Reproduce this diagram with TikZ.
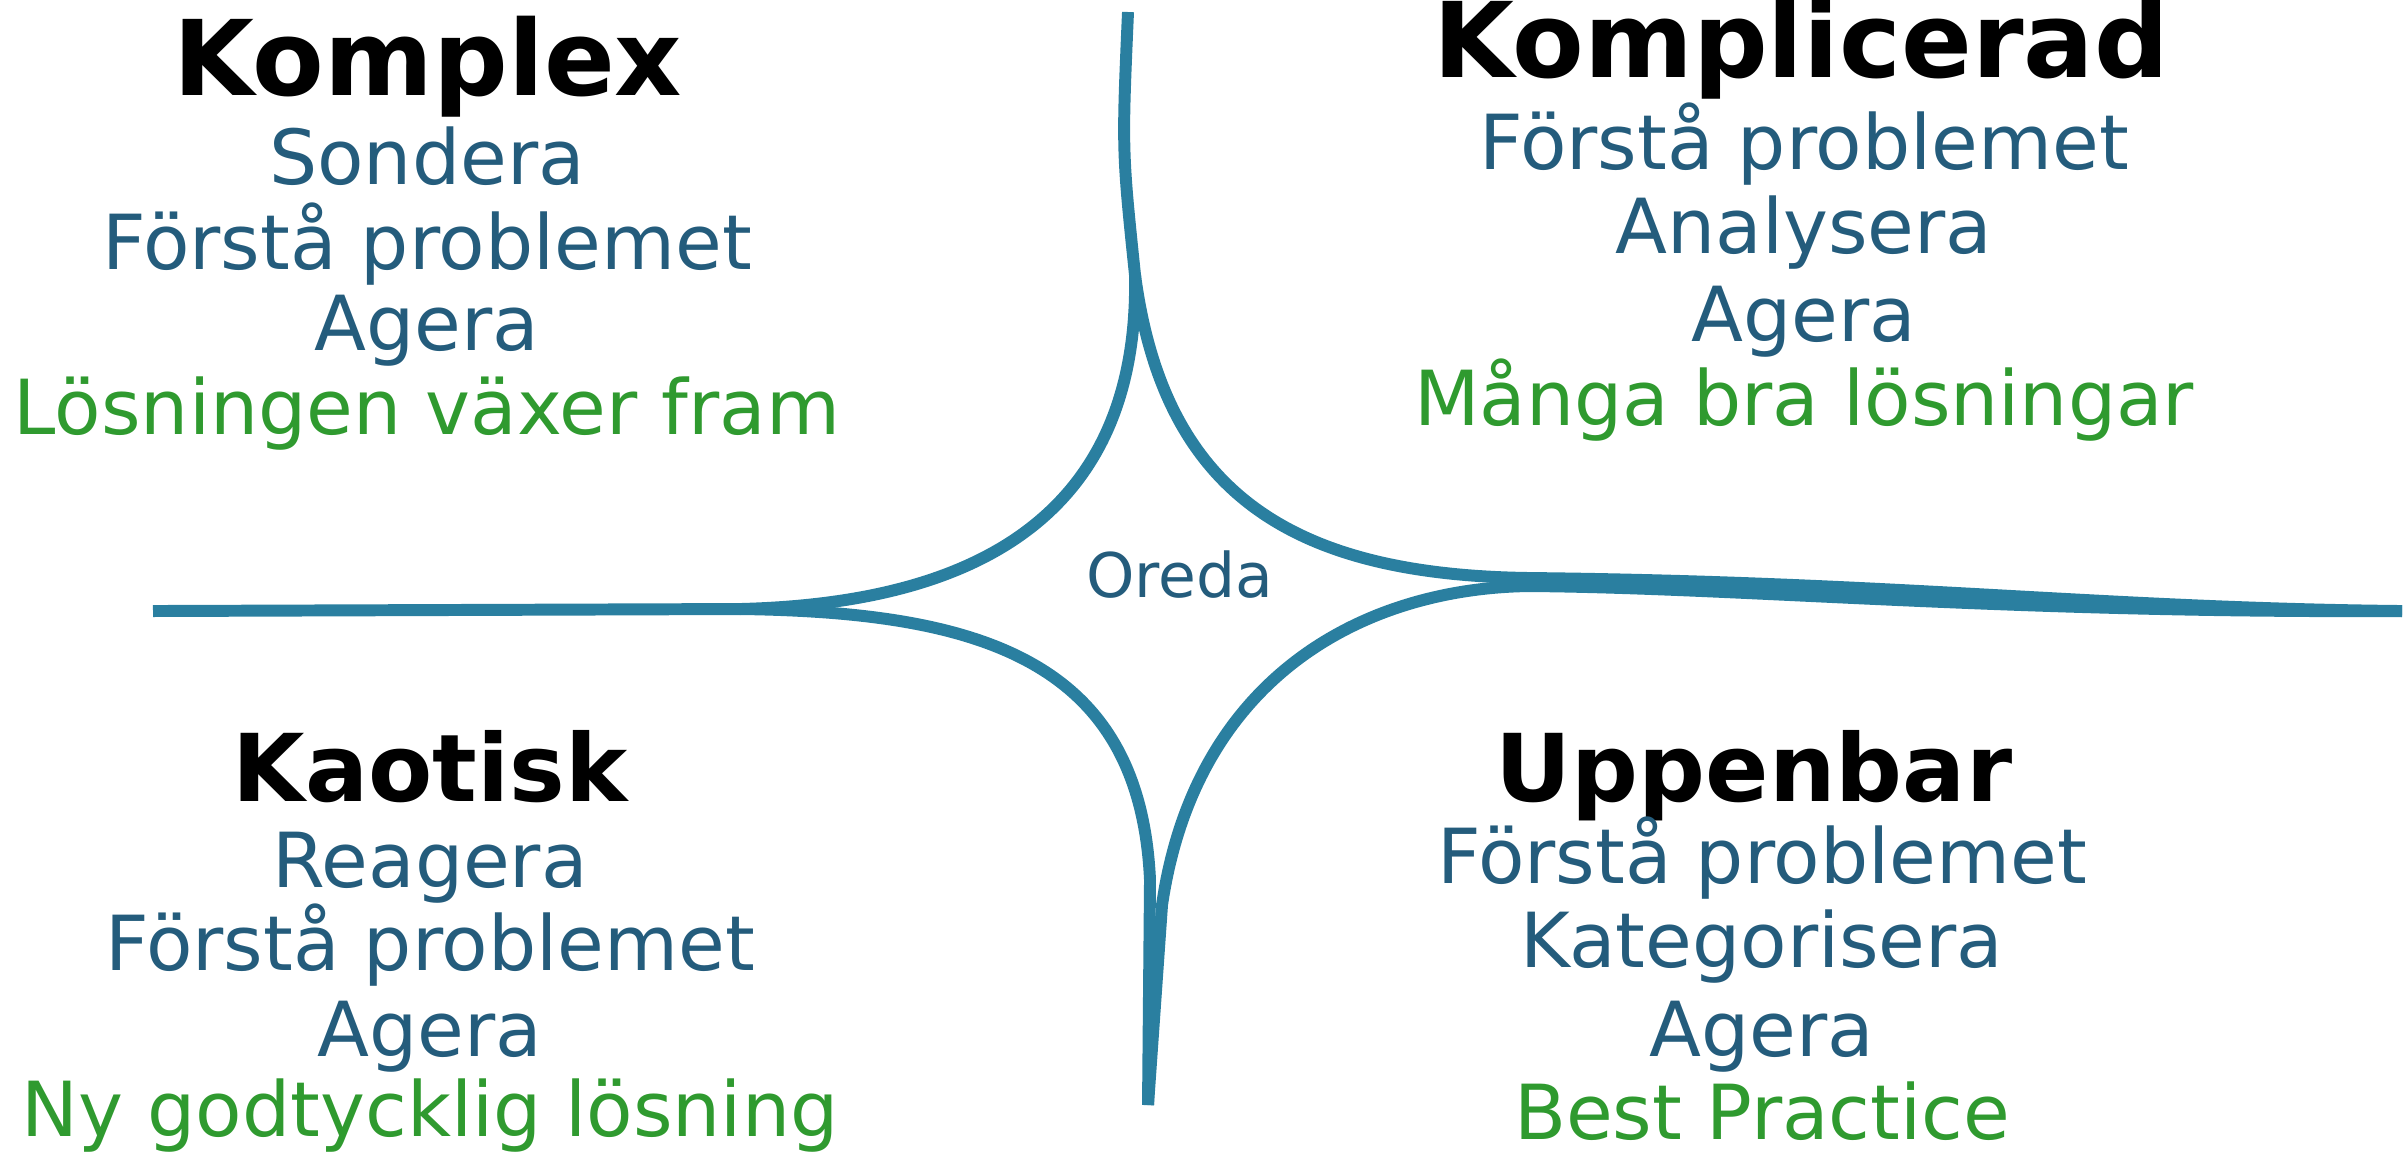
\documentclass[tikz,border=0pt]{standalone}
\usepackage{fontspec}
\setmainfont{DejaVu Sans}
\definecolor{axisblue}{RGB}{42,127,160}
\definecolor{stepblue}{RGB}{36,92,124}
\definecolor{outgreen}{RGB}{47,154,47}
\begin{document}
\begin{tikzpicture}[x=0.01cm,y=-0.01cm]
  \tikzstyle{domainname}=[anchor=base, font=\fontsize{29.7}{34}\selectfont\bfseries, text=black, inner sep=0pt]
  \tikzstyle{domainlow}=[domainname, font=\fontsize{26.6}{32}\selectfont\bfseries]
  \tikzstyle{stepline}=[anchor=base, font=\fontsize{21.6}{26}\selectfont, text=stepblue, inner sep=0pt]
  \tikzstyle{resultline}=[anchor=base, font=\fontsize{21.6}{26}\selectfont, text=outgreen, inner sep=0pt]
  \tikzstyle{rimline}=[draw=axisblue, line width=3.4pt, line cap=butt]
  \useasboundingbox (0,0) rectangle (2407,1156);

  % ends and cusps
  \coordinate (top) at (1128,12);
  \coordinate (bottom) at (1148,1105);
  \coordinate (left) at (153,611);
  \coordinate (right) at (2402,611);
  \coordinate (cn) at (1135,275);
  \coordinate (cw) at (740,609);
  \coordinate (ce) at (1530,578);
  \coordinate (ce2) at (1530,586);
  \coordinate (cs) at (1162,905);

  % borders between domains
  \draw[rimline] (top) .. controls (1122,150) .. (cn) .. controls (1140,540) and (940,604) .. (cw) -- (left);
  \draw[rimline] (cn) .. controls (1165,500) and (1300,575) .. (ce) .. controls (1900,582) and (2100,608) .. (right);
  \draw[rimline] (right) .. controls (2000,613) and (1750,588) .. (ce2) .. controls (1360,588) and (1195,680) .. (cs) -- (bottom);
  \draw[rimline] (cw) .. controls (980,612) and (1140,660) .. (1150,880) -- (bottom);

  \node[font=\fontsize{17.5}{21}\selectfont, text=stepblue, anchor=base] (oreda) at (1180,597) {Oreda};

  % Komplex
  \node[domainname] (komplex) at (428,95) {Komplex};
  \node[stepline] (k1) at (427,184) {Sondera};
  \node[stepline] (k2) at (427,269) {Förstå problemet};
  \node[stepline] (k3) at (427,350) {Agera};
  \node[resultline] (k4) at (427,434) {Lösningen växer fram};

  % Komplicerad
  \node[domainname] (komplicerad) at (1801,77) {Komplicerad};
  \node[stepline] (c1) at (1804,169) {Förstå problemet};
  \node[stepline] (c2) at (1804,253) {Analysera};
  \node[stepline] (c3) at (1804,341) {Agera};
  \node[resultline] (c4) at (1804,425) {Många bra lösningar};

  % Kaotisk
  \node[domainlow] (kaotisk) at (430,801) {Kaotisk};
  \node[stepline] (a1) at (430,887) {Reagera};
  \node[stepline] (a2) at (430,970) {Förstå problemet};
  \node[stepline] (a3) at (430,1056) {Agera};
  \node[resultline] (a4) at (430,1136) {Ny godtycklig lösning};

  % Uppenbar
  \node[domainlow] (uppenbar) at (1754,801) {Uppenbar};
  \node[stepline] (u1) at (1762,883) {Förstå problemet};
  \node[stepline] (u2) at (1762,967) {Kategorisera};
  \node[stepline] (u3) at (1762,1056) {Agera};
  \node[resultline] (u4) at (1762,1139) {Best Practice};
\end{tikzpicture}
\end{document}
